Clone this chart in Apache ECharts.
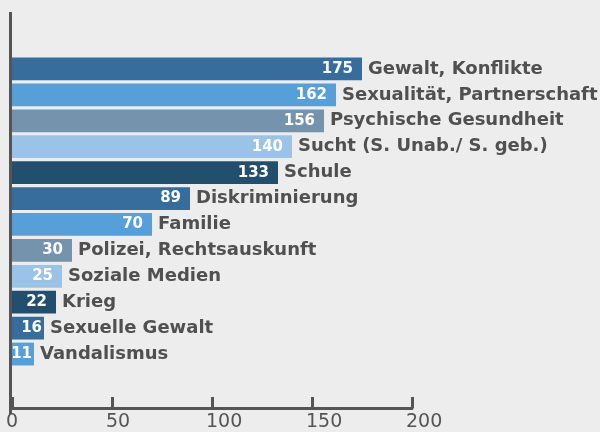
<!DOCTYPE html>
<html>
<head>
<meta charset="utf-8">
<script src="https://cdn.jsdelivr.net/npm/echarts@6/dist/echarts.min.js"></script>
<style>
  html, body { margin: 0; padding: 0; background: #ededed; }
  #chart { width: 600px; height: 432px; }
</style>
</head>
<body>
<div id="chart"></div>
<script>
  // Themen (von oben nach unten) und Anzahl
  var categories = [
    'Gewalt, Konflikte',
    'Sexualität, Partnerschaft',
    'Psychische Gesundheit',
    'Sucht (S. Unab./ S. geb.)',
    'Schule',
    'Diskriminierung',
    'Familie',
    'Polizei, Rechtsauskunft',
    'Soziale Medien',
    'Krieg',
    'Sexuelle Gewalt',
    'Vandalismus'
  ];
  var values = [175, 162, 156, 140, 133, 89, 70, 30, 25, 22, 16, 11];
  var xTicks = [0, 50, 100, 150, 200];

  var palette = ['#376d9c', '#579fd9', '#7593ad', '#9bc3e7', '#234f6f'];
  var fontFam = '"DejaVu Sans", sans-serif';

  var chart = echarts.init(document.getElementById('chart'));

  // Balken mit Wert innen
  var barData = values.map(function (v, i) {
    return {
      value: v,
      itemStyle: { color: palette[i % palette.length] },
      label: { distance: v < 20 ? 2 : 9 }
    };
  });

  var option = {
    backgroundColor: '#ededed',
    animation: false,
    grid: {
      left: 12,
      right: 188,
      top: 56,
      bottom: 60
    },
    xAxis: {
      type: 'value',
      min: xTicks[0],
      max: xTicks[xTicks.length - 1],
      interval: 50,
      offset: 41,
      splitLine: { show: false },
      axisLine: { show: true, lineStyle: { color: '#555', width: 3 } },
      axisTick: { show: true, inside: true, length: 11, lineStyle: { color: '#555', width: 3 } },
      axisLabel: {
        color: '#555',
        fontSize: 19,
        fontFamily: fontFam,
        margin: 5,
        align: 'left',
        padding: [0, 0, 0, -6]
      }
    },
    yAxis: {
      type: 'category',
      inverse: true,
      data: categories,
      axisLine: { show: false },
      axisTick: { show: false },
      axisLabel: { show: false }
    },
    graphic: [{
      type: 'line',
      shape: { x1: 10.5, y1: 12, x2: 10.5, y2: 414 },
      style: { stroke: '#555', lineWidth: 3 }
    }],
    series: [
      {
        type: 'bar',
        data: barData,
        barCategoryGap: '12%',
        label: {
          show: true,
          position: 'insideRight',
          color: '#fff',
          fontSize: 15,
          fontWeight: 'bold',
          fontFamily: fontFam
        }
      },
      {
        type: 'bar',
        data: values,
        barGap: '-100%',
        barCategoryGap: '12%',
        itemStyle: { color: 'transparent' },
        silent: true,
        label: {
          show: true,
          position: 'right',
          distance: 6,
          color: '#505050',
          fontSize: 18,
          fontWeight: 'bold',
          fontFamily: fontFam,
          formatter: function (p) { return categories[p.dataIndex]; }
        }
      }
    ]
  };

  chart.setOption(option);
</script>
</body>
</html>
